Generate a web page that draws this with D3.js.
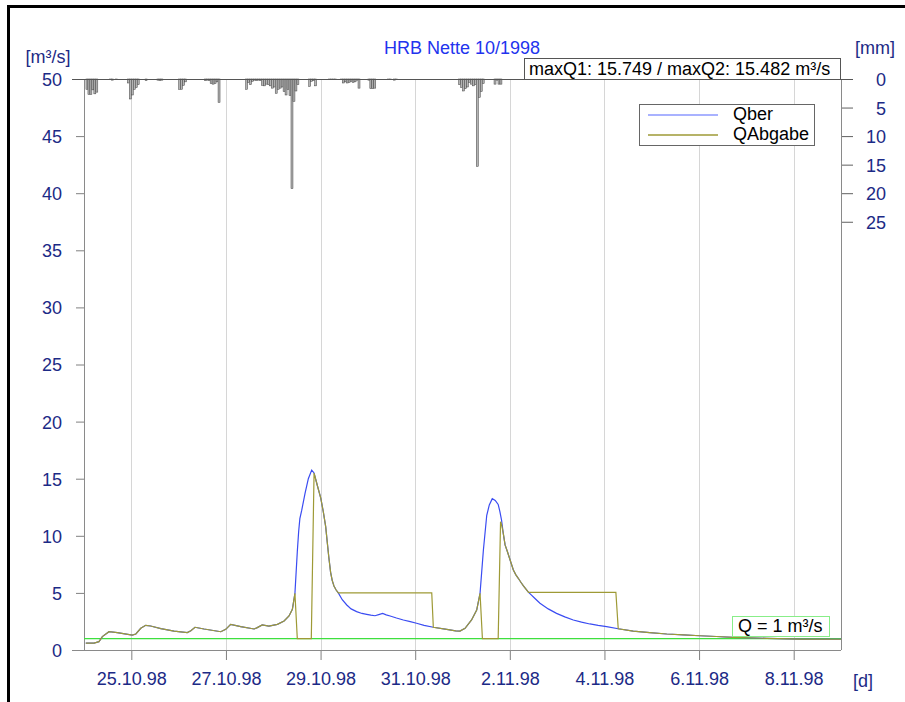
<!DOCTYPE html>
<html lang="de">
<head>
<meta charset="UTF-8">
<title>HRB Nette 10/1998</title>
<style>
body { margin: 0; background: #fff; }
svg text { font-family: "Liberation Sans", Arial, sans-serif; font-size: 18px; }
.lbl { fill: #1c2a86; }
</style>
</head>
<body>
<svg id="chart" width="905" height="702"></svg>
<script src="https://cdn.jsdelivr.net/npm/d3@7"></script>
<script>
// hours counted from 24.10.98 00:00
const dateLabels = ["25.10.98", "27.10.98", "29.10.98", "31.10.98", "2.11.98", "4.11.98", "6.11.98", "8.11.98"]
const leftTicks = [0, 5, 10, 15, 20, 25, 30, 35, 40, 45, 50]
const rightTicks = [0, 5, 10, 15, 20, 25]

const qber = [
  [0.9,0.61],[5.1,0.60],[7.6,0.73],[9.3,1.17],[12.7,1.60],[16.9,1.52],[24.5,1.31],[26.3,1.40],
  [28.8,1.90],[31.3,2.16],[33.8,2.10],[39.0,1.87],[45.7,1.66],[52.4,1.52],[54.2,1.69],[56.3,1.99],
  [60.9,1.84],[69.4,1.60],[71.9,1.81],[74.4,2.25],[79.5,2.04],[86.3,1.84],[87.9,1.96],[90.4,2.19],
  [93.8,2.10],[98.1,2.25],[101.5,2.54],[104.0,2.98],[105.7,3.56],[107.0,4.96],[108.2,8.6],
  [108.9,10.4],[109.5,11.5],[110.4,12.2],[112.1,13.7],[113.8,15.0],[115.5,15.75],[116.7,15.5],[118.3,14.45],
  [120.1,13.3],[121.4,12.1],[122.6,10.8],[123.3,9.6],[124.2,8.1],[125.1,6.8],[125.9,6.1],
  [126.8,5.6],[127.9,5.25],[129.0,5.0],[131.0,4.4],[133.3,3.94],[135.5,3.6],[138.3,3.36],
  [141.0,3.2],[143.4,3.12],[145.5,3.05],[147.6,3.0],[149.5,3.1],[151.5,3.2],[153.3,3.08],
  [155.3,2.98],[158.5,2.8],[162.0,2.63],[165.5,2.48],[168.7,2.34],[172.5,2.16],[177.2,1.99],
  [184.0,1.81],[188.5,1.68],[190.7,1.66],[193.3,1.90],[196.6,2.63],[199.2,3.50],[200.9,4.96],
  [202.6,8.76],[204.3,11.8],[205.6,12.7],[207.1,13.25],[208.6,13.1],[210.1,12.75],[211.0,12.1],
  [211.8,11.38],[212.6,10.3],[213.6,9.2],[214.8,8.6],[216.1,7.9],[217.8,7.0],[219.0,6.6],
  [220.3,6.28],[221.6,5.93],[222.9,5.62],[224.2,5.33],[225.5,5.05],[227.0,4.8],[228.5,4.55],
  [231.3,4.09],[235.5,3.6],[239.7,3.21],[243.9,2.9],[248.2,2.63],[252.4,2.44],[256.6,2.28],
  [260.8,2.15],[265.1,2.04],[271.0,1.86],[278.6,1.66],[287.0,1.52],[295.6,1.40],[304.0,1.32],
  [312.4,1.25],[320.8,1.18],[329.3,1.11],[346.3,1.02],[363.2,0.96],[384.0,0.94]
]

const qabgabe = [
  [0.9,0.61],[5.1,0.60],[7.6,0.73],[9.3,1.17],[12.7,1.60],[16.9,1.52],[24.5,1.31],[26.3,1.40],
  [28.8,1.90],[31.3,2.16],[33.8,2.10],[39.0,1.87],[45.7,1.66],[52.4,1.52],[54.2,1.69],[56.3,1.99],
  [60.9,1.84],[69.4,1.60],[71.9,1.81],[74.4,2.25],[79.5,2.04],[86.3,1.84],[87.9,1.96],[90.4,2.19],
  [93.8,2.10],[98.1,2.25],[101.5,2.54],[104.0,2.98],[105.7,3.56],[107.0,4.96],[108.2,1.0],
  [115.3,1.0],[116.7,15.48],[118.3,14.45],[120.1,13.3],[121.4,12.1],[122.6,10.8],[123.3,9.6],
  [124.2,8.1],[125.1,6.8],[125.9,6.1],[126.8,5.6],[127.9,5.25],[129.0,5.0],[176.4,5.0],
  [177.2,1.99],[184.0,1.81],[188.5,1.68],[190.7,1.66],[193.3,1.90],[196.6,2.63],[199.2,3.50],
  [200.9,4.96],[202.1,1.0],[210.1,1.0],[211.3,11.24],[211.8,11.0],[212.6,10.3],[213.6,9.2],
  [214.8,8.6],[216.1,7.9],[217.8,7.0],[219.0,6.6],[220.3,6.28],[221.6,5.93],[222.9,5.62],
  [224.2,5.33],[225.5,5.05],[269.8,5.05],[271.0,1.86],[278.6,1.66],[287.0,1.52],[295.6,1.40],
  [304.0,1.32],[312.4,1.25],[320.8,1.18],[329.3,1.11],[346.3,1.02],[363.2,0.96],[384.0,0.94]
]

// hourly precipitation [hour, mm]
const rain = [
  [1,1.8],[2,2.7],[3,2.7],[4,1.9],[5,2.6],[6,2.3],
  [13,0.1],[14,0.2],[16,0.1],
  [22,0.7],[23,3.5],[24,2.8],[25,1.8],[26,1.5],[27,1.0],
  [31,0.3],[37,0.2],[38,0.3],[39,0.2],
  [48,1.8],[49,1.8],[50,1.1],[51,0.5],
  [61,0.3],[62,0.2],[63,0.3],[64,0.8],[65,0.9],[66,0.8],[67,0.5],[68,4.1],
  [82,1.8],[83,0.6],[84,1.0],[85,0.4],[86,0.2],[87,0.3],[88,0.2],[89,0.3],[90,1.1],[91,1.2],
  [92,0.9],[93,1.0],[94,1.2],[95,1.6],[96,1.4],[97,2.5],[98,1.8],[99,1.6],[100,1.4],[101,2.2],
  [102,2.8],[103,1.8],[104,2.9],[105,19.2],[106,3.9],[107,2.1],[108,1.0],
  [114,1.3],[115,0.4],[116,0.3],[117,1.2],
  [124,0.1],[125,0.1],[126,0.1],[127,0.1],
  [130,0.1],[131,0.7],[132,0.5],[133,0.7],[134,0.6],[135,0.4],[136,0.6],[137,0.5],[138,0.2],[139,1.6],
  [144,0.2],[145,1.7],[146,1.7],[147,1.6],
  [154,0.1],[155,0.1],[157,0.2],[158,0.1],
  [190,1.0],[191,1.5],[192,2.1],[193,1.7],[194,1.4],[195,0.6],[196,0.9],[197,1.2],[198,1.0],
  [199,15.3],[200,3.2],[201,2.2],[202,0.8],
  [208,0.9],[209,0.2],[210,0.9],[211,0.9]
]

const t0 = Date.UTC(1998, 9, 24)
const hr = h => new Date(t0 + h * 3600e3)
const parseDay = d3.utcParse("%d.%m.%y")

const svg = d3.select("#chart")
const plotL = 84, plotR = 841, plotT = 79, plotB = 650

const x = d3.scaleUtc()
  .domain([hr(0), hr(384)])
  .range([plotL, plotR])
const y = d3.scaleLinear().domain([0, 50]).range([plotB, plotT])
const yRain = d3.scaleLinear().domain([0, 100]).range([plotT, plotB])

// outer frame
svg.append("rect")
  .attr("x", 8.5).attr("y", 6.5)
  .attr("width", 1000).attr("height", 1000)
  .attr("fill", "none").attr("stroke", "#000").attr("stroke-width", 3)

const tickDates = dateLabels.map(parseDay)

// vertical grid
svg.append("g").selectAll("line")
  .data(tickDates).enter().append("line")
  .attr("x1", d => Math.round(x(d)) + 0.5).attr("x2", d => Math.round(x(d)) + 0.5)
  .attr("y1", plotT).attr("y2", plotB)
  .attr("stroke", "#d6d6d6")

// x axis
const xAxis = d3.axisBottom(x)
  .tickValues(tickDates)
  .tickSize(10)
  .tickPadding(12)
  .tickFormat((d, i) => dateLabels[i])
const gx = svg.append("g")
  .attr("transform", "translate(0," + plotB + ")")
  .call(xAxis)
gx.select(".domain").remove()
gx.selectAll("line").attr("stroke", "#808080")
gx.selectAll("text").attr("class", "lbl").style("font-size", "18px")
  .style("font-family", "Liberation Sans, Arial, sans-serif")

// left axis
const yAxis = d3.axisLeft(y).tickValues(leftTicks).tickSize(8).tickPadding(14)
const gy = svg.append("g").attr("transform", "translate(" + plotL + ",0)").call(yAxis)
gy.select(".domain").remove()
gy.selectAll("line").attr("stroke", "#808080")
gy.selectAll("text").attr("class", "lbl").attr("dy", "0.36em").style("font-size", "18px")
  .style("font-family", "Liberation Sans, Arial, sans-serif")

// right axis (precipitation)
const yRAxis = d3.axisRight(yRain).tickValues(rightTicks).tickSize(12).tickPadding(0)
const gr = svg.append("g").attr("transform", "translate(" + plotR + ",0)").call(yRAxis)
gr.select(".domain").remove()
gr.selectAll("line").attr("stroke", "#606060")
gr.selectAll("text").attr("class", "lbl").attr("text-anchor", "end").attr("x", 45)
  .attr("dy", "0.36em").style("font-size", "18px")
  .style("font-family", "Liberation Sans, Arial, sans-serif")

// frame lines of the plot area
svg.append("line").attr("x1", plotL + 0.5).attr("x2", plotL + 0.5).attr("y1", plotT).attr("y2", plotB)
  .attr("stroke", "#8a8a8a")
svg.append("line").attr("x1", plotR + 0.5).attr("x2", plotR + 0.5).attr("y1", plotT).attr("y2", plotB)
  .attr("stroke", "#8a8a8a")
svg.append("line").attr("x1", 72).attr("x2", plotR).attr("y1", plotB + 0.5).attr("y2", plotB + 0.5)
  .attr("stroke", "#8a8a8a")

// precipitation bars
svg.append("g").selectAll("rect")
  .data(rain).enter().append("rect")
  .attr("x", d => x(hr(d[0])))
  .attr("width", d => x(hr(d[0] + 1)) - x(hr(d[0])))
  .attr("y", plotT)
  .attr("height", d => yRain(d[1]) - plotT)
  .attr("fill", "#b4b4b4")
  .attr("stroke", "#404040")
  .attr("stroke-width", 0.5)

svg.append("line").attr("x1", 72).attr("x2", 853).attr("y1", plotT + 0.5).attr("y2", plotT + 0.5)
  .attr("stroke", "#555")

// Q = 1 reference line
svg.append("line")
  .attr("x1", plotL).attr("x2", plotR)
  .attr("y1", y(1)).attr("y2", y(1))
  .attr("stroke", "#3ee03e").attr("stroke-width", 1.4)

const line = d3.line().x(d => x(hr(d[0]))).y(d => y(d[1]))

svg.append("path").datum(qber)
  .attr("d", line).attr("fill", "none")
  .attr("stroke", "#3a4cf2").attr("stroke-width", 1.2)
svg.append("path").datum(qabgabe)
  .attr("d", line).attr("fill", "none")
  .attr("stroke", "#9e9a36").attr("stroke-width", 1.2)

// labels
svg.append("text").attr("x", 462).attr("y", 54).attr("text-anchor", "middle")
  .attr("fill", "#2233ee").text("HRB Nette 10/1998")
svg.append("text").attr("class", "lbl").attr("x", 48).attr("y", 63).attr("text-anchor", "middle")
  .text("[m³/s]")
svg.append("text").attr("class", "lbl").attr("x", 875).attr("y", 54).attr("text-anchor", "middle")
  .text("[mm]")
svg.append("text").attr("class", "lbl").attr("x", 863).attr("y", 687).attr("text-anchor", "middle")
  .text("[d]")

// max box
svg.append("rect").attr("x", 524.5).attr("y", 58.5).attr("width", 316).attr("height", 21)
  .attr("fill", "#fff").attr("stroke", "#555")
svg.append("text").attr("x", 529).attr("y", 75).attr("fill", "#000")
  .text("maxQ1: 15.749 / maxQ2: 15.482 m³/s")

// legend
const legend = svg.append("g")
legend.append("rect").attr("x", 639.5).attr("y", 104.5).attr("width", 175).attr("height", 41)
  .attr("fill", "#fff").attr("stroke", "#666")
const legendItems = [["Qber", "#8d99ff"], ["QAbgabe", "#9e9a36"]]
legendItems.forEach((it, i) => {
  legend.append("line").attr("x1", 648).attr("x2", 718)
    .attr("y1", 115 + i * 20).attr("y2", 115 + i * 20)
    .attr("stroke", it[1]).attr("stroke-width", 1.3)
  legend.append("text").attr("x", 733).attr("y", 120 + i * 20).attr("fill", "#000").text(it[0])
})

// Q = 1 box
svg.append("rect").attr("x", 732.5).attr("y", 616.5).attr("width", 97).attr("height", 20)
  .attr("fill", "#fff").attr("stroke", "#88ee88")
svg.append("text").attr("x", 738).attr("y", 632).attr("fill", "#000").text("Q = 1 m³/s")
</script>
</body>
</html>
